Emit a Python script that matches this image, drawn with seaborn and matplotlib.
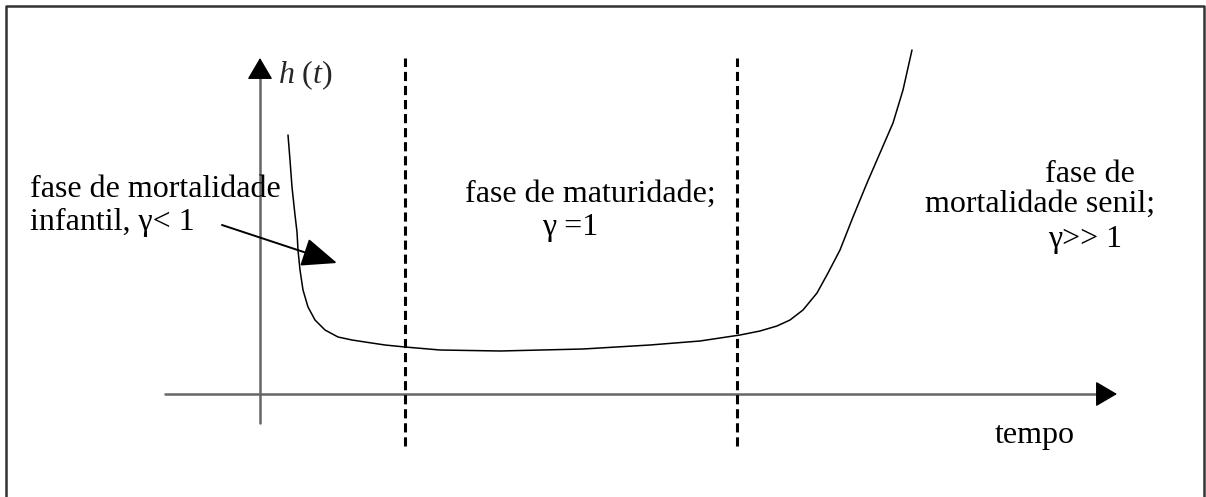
import matplotlib
matplotlib.use("Agg")
import matplotlib.pyplot as plt
import seaborn as sns
import pandas as pd

# bathtub curve h(t) (origin = where the two axes cross)
tempo = [28, 30, 32, 35, 37, 38, 40, 43, 48, 55, 65, 78, 92, 105, 125, 145, 180,
         240, 323, 390, 440, 480, 500, 517, 530, 543, 557, 568, 580, 593, 607,
         620, 633, 643, 652]
taxa = [259, 234, 207, 179, 162, 144, 124, 104, 87, 74, 64, 57, 54, 52, 49, 47, 44,
        43, 45, 49, 53, 59, 63, 68, 74, 84, 101, 121, 144, 177, 211,
        241, 271, 304, 344]

# phase boundaries (dashed lines)
fronteiras = [145, 477]

# labels: (text, x, baseline y)
rotulos = [
    ("fase de mortalidade", -230, 197),
    ("infantil, γ< 1", -230, 164),
    ("fase de maturidade;", 205, 192),
    ("γ =1", 282, 159),
    ("fase de", 785, 212),
    ("mortalidade senil;", 665, 182),
    ("γ>> 1", 788, 147),
    ("tempo", 735, -49),
]
rotulo_eixo_y = r"$h\ (t)$"

sns.set_theme(style="white")
plt.rcParams["font.family"] = ["Liberation Serif", "DejaVu Serif"]
plt.rcParams["mathtext.fontset"] = "custom"
plt.rcParams["mathtext.rm"] = "Liberation Serif"
plt.rcParams["mathtext.it"] = "Liberation Serif:italic"

fig = plt.figure(figsize=(12.06, 4.97), dpi=100)
ax = fig.add_axes([0, 0, 1, 1])
ax.set_xlim(-260, 946)
ax.set_ylim(-103, 394)
ax.axis("off")

# outer frame
ax.plot([0.005, 0.005, 0.9983, 0.9983], [-0.1, 0.988, 0.988, -0.1],
        transform=ax.transAxes, color="#333333", lw=1.8, clip_on=False)

# axes: gray shafts, black heads
ax.plot([0, 0], [-29, 320], color="#666666", lw=1.8)
ax.plot([-95, 840], [0, 0], color="#666666", lw=1.8)
cabeca = dict(arrowstyle="-|>,head_length=0.68,head_width=0.4", mutation_scale=20,
              color="black", lw=1.0, shrinkA=0, shrinkB=0)
ax.annotate("", xy=(0, 336), xytext=(0, 316), arrowprops=cabeca)
ax.annotate("", xy=(857, 0), xytext=(837, 0), arrowprops=cabeca)
ax.text(18, 311, rotulo_eixo_y, fontsize=23, ha="left", va="baseline")

for x in fronteiras:
    ax.plot([x, x], [-52, 336], color="black", lw=2.2, linestyle=(0, (3.0, 1.6)))

df = pd.DataFrame({"tempo": tempo, "h": taxa})
sns.lineplot(data=df, x="tempo", y="h", sort=False, estimator=None,
             color="black", lw=1.1, ax=ax, solid_joinstyle="round")

# pointer to the infant mortality region
ax.annotate("", xy=(77, 131), xytext=(-38, 169),
            arrowprops=dict(arrowstyle="-|>,head_length=1.1,head_width=0.45",
                            mutation_scale=20, color="black", lw=1.4,
                            shrinkA=0, shrinkB=0))

for texto, x, y in rotulos:
    ax.text(x, y, texto, fontsize=23, ha="left", va="baseline", color="black")

fig.savefig("out.png", dpi=100, facecolor="white")
